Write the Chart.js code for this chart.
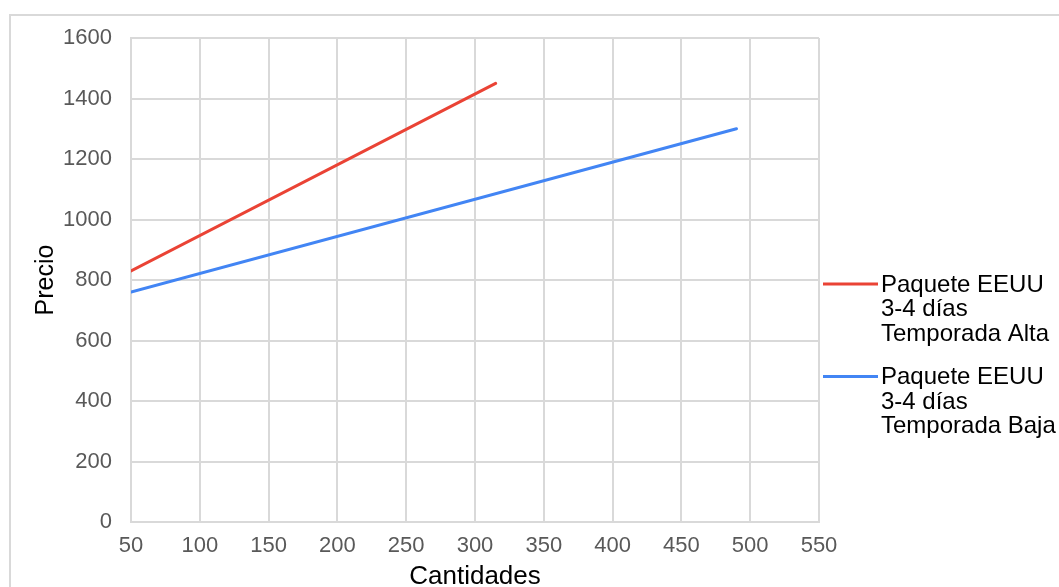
<!DOCTYPE html>
<html>
<head>
<meta charset="utf-8">
<script src="https://cdn.jsdelivr.net/npm/chart.js@4/dist/chart.umd.min.js"></script>
<style>
  html, body { margin: 0; padding: 0; background: #fff; }
  #wrap { width: 1059px; height: 587px; position: relative; }
</style>
</head>
<body>
<div id="wrap"><canvas id="grafico" width="1059" height="587"></canvas></div>
<script>
// Datos
const cantidadesAlta = [50, 315];
const preciosAlta = [830, 1450];
const cantidadesBaja = [50, 490];
const preciosBaja = [760, 1300];
const nombreAlta = ["Paquete EEUU", "3-4 días", "Temporada Alta"];
const nombreBaja = ["Paquete EEUU", "3-4 días", "Temporada Baja"];
const ticksX = [50, 100, 150, 200, 250, 300, 350, 400, 450, 500, 550];
const ticksY = [0, 200, 400, 600, 800, 1000, 1200, 1400, 1600];

const FUENTE = "'Liberation Sans', Arial, sans-serif";
const GRIS = "#d9d9d9";

const aPuntos = (xs, ys) => xs.map((x, i) => ({ x: x, y: ys[i] }));

// marco exterior del gráfico
const marco = {
    id: "marco",
    beforeDraw(chart) {
        const c = chart.ctx;
        c.save();
        c.fillStyle = "#fff";
        c.fillRect(0, 0, chart.width, chart.height);
        c.strokeStyle = GRIS;
        c.lineWidth = 2;
        c.strokeRect(10, 15, chart.width + 20, chart.height + 20);
        c.restore();
    }
};

// leyenda a la derecha con etiquetas de varias líneas
const leyenda = {
    id: "leyenda",
    afterDraw(chart) {
        const c = chart.ctx;
        const area = chart.chartArea;
        const altoLinea = 24.5;
        let y = area.top + 246;
        c.save();
        c.font = "24px " + FUENTE;
        c.textBaseline = "middle";
        c.textAlign = "left";
        chart.data.datasets.forEach((ds) => {
            c.strokeStyle = ds.borderColor;
            c.lineWidth = 3;
            c.beginPath();
            c.moveTo(area.right + 4, y);
            c.lineTo(area.right + 59, y);
            c.stroke();
            c.fillStyle = "#000";
            ds.label.forEach((linea, i) => {
                c.fillText(linea, area.right + 62, y + 1 + i * altoLinea);
            });
            y += altoLinea * ds.label.length + 19;
        });
        c.restore();
    }
};

new Chart(document.getElementById("grafico"), {
    type: "line",
    data: {
        datasets: [
            {
                label: nombreAlta,
                data: aPuntos(cantidadesAlta, preciosAlta),
                borderColor: "#ea4335",
                borderWidth: 3,
                borderCapStyle: "round",
                pointRadius: 0,
                fill: false,
            },
            {
                label: nombreBaja,
                data: aPuntos(cantidadesBaja, preciosBaja),
                borderColor: "#4285f4",
                borderWidth: 3,
                borderCapStyle: "round",
                pointRadius: 0,
                fill: false,
            },
        ],
    },
    options: {
        responsive: false,
        animation: false,
        layout: { padding: { left: 10, top: 38, right: 240, bottom: 0 } },
        plugins: {
            legend: { display: false },
            tooltip: { enabled: false },
        },
        scales: {
            x: {
                type: "linear",
                min: ticksX[0],
                max: ticksX[ticksX.length - 1],
                afterBuildTicks: (eje) => { eje.ticks = ticksX.map(v => ({ value: v })); },
                afterFit: (eje) => { eje.height = 65; },
                grid: { color: GRIS, lineWidth: 2, drawTicks: false },
                border: { color: GRIS, width: 2 },
                ticks: {
                    color: "#595959",
                    padding: 11,
                    font: { family: FUENTE, size: 22 },
                    callback: (v) => String(v),
                },
                title: {
                    display: true,
                    text: "Cantidades",
                    color: "#000",
                    padding: 0,
                    font: { family: FUENTE, size: 26, lineHeight: 0.8 },
                },
            },
            y: {
                min: ticksY[0],
                max: ticksY[ticksY.length - 1],
                afterBuildTicks: (eje) => { eje.ticks = ticksY.map(v => ({ value: v })); },
                afterFit: (eje) => { eje.width = 121; },
                grid: { color: GRIS, lineWidth: 2, drawTicks: false },
                border: { color: GRIS, width: 2 },
                ticks: {
                    color: "#595959",
                    padding: 19,
                    font: { family: FUENTE, size: 22 },
                    callback: (v) => String(v),
                },
                title: {
                    display: true,
                    text: "Precio",
                    color: "#000",
                    padding: { top: 21 },
                    font: { family: FUENTE, size: 25 },
                },
            },
        },
    },
    plugins: [marco, leyenda],
});
</script>
</body>
</html>
